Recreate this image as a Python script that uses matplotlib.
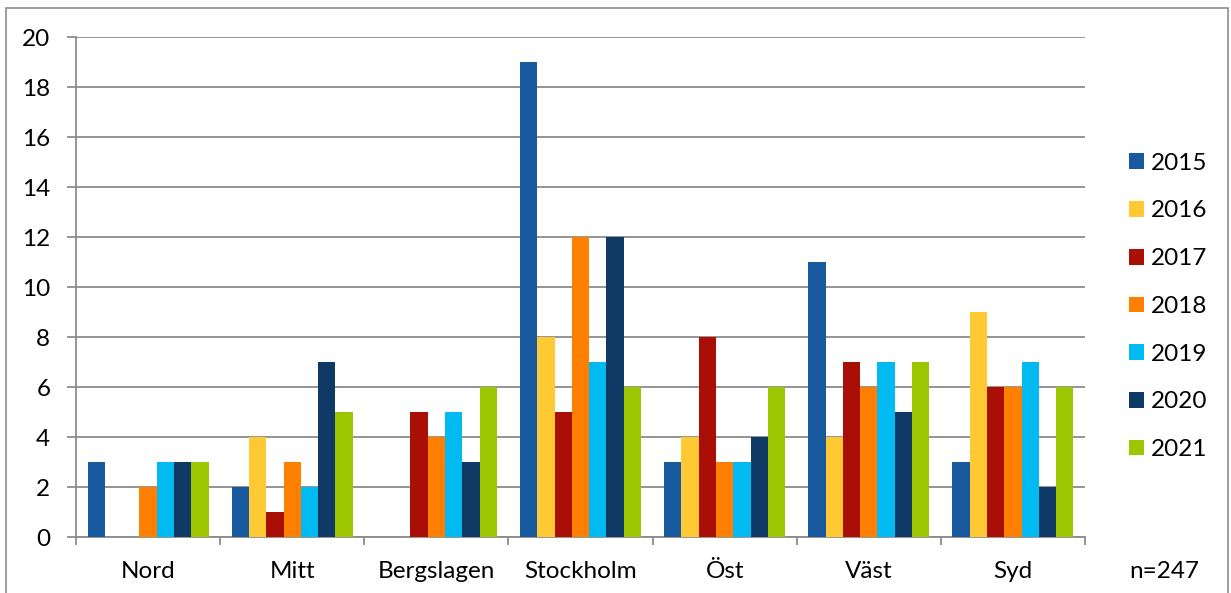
import matplotlib
matplotlib.use("Agg")
import matplotlib.pyplot as plt
import numpy as np
from matplotlib.patches import Rectangle

plt.rcParams['font.family'] = ['Lato', 'DejaVu Sans']

regions = ["Nord", "Mitt", "Bergslagen", "Stockholm", "Öst", "Väst", "Syd"]
years = ["2015", "2016", "2017", "2018", "2019", "2020", "2021"]
values = {
    "2015": [3, 2, 0, 19, 3, 11, 3],
    "2016": [0, 4, 0, 8, 4, 4, 9],
    "2017": [0, 1, 5, 5, 8, 7, 6],
    "2018": [2, 3, 4, 12, 3, 6, 6],
    "2019": [3, 2, 5, 7, 3, 7, 7],
    "2020": [3, 7, 3, 12, 4, 5, 2],
    "2021": [3, 5, 6, 6, 6, 7, 6],
}
colors = ["#185A9D", "#FFC933", "#A90F05", "#FF7F00", "#00BBF2", "#0F3A66", "#9BC600"]
note = "n=247"

W, H = 1231, 593
fig = plt.figure(figsize=(W / 100, H / 100), dpi=100)
ax = fig.add_axes([76 / W, (H - 537) / H, (1085 - 76) / W, 500 / H])

fs = 17.5
grid_c = "#8C8C8C"
n = len(years)
bw = 0.12
x = np.arange(len(regions)) + 0.5
for j, (yr, c) in enumerate(zip(years, colors)):
    offs = (j - (n - 1) / 2) * bw
    ax.bar(x + offs, values[yr], width=bw, color=c, label=yr, zorder=3)

ax.set_xlim(0, len(regions))
ax.set_ylim(0, 20)
ax.set_yticks(np.arange(0, 21, 2))
ax.yaxis.grid(True, color=grid_c, linewidth=1.3, zorder=0)
ax.set_axisbelow(True)

ax.set_xticks(np.arange(len(regions) + 1))
ax.set_xticklabels([])
ax.set_xticks(x, minor=True)
ax.set_xticklabels(regions, minor=True, fontsize=fs)
ax.tick_params(axis='x', which='minor', length=0, pad=17)
ax.tick_params(axis='x', which='major', length=6, width=1.3, color=grid_c, direction='out')
ax.tick_params(axis='y', length=6.5, width=1.3, color=grid_c, pad=12, labelsize=fs)

for s in ["top", "right"]:
    ax.spines[s].set_visible(False)
for s in ["left", "bottom"]:
    ax.spines[s].set_color(grid_c)
    ax.spines[s].set_linewidth(1.3)

leg = fig.legend(loc='upper left', bbox_to_anchor=(1119 / W, (H - 143) / H),
                 frameon=False, fontsize=fs, handlelength=0.62, handleheight=0.62,
                 handletextpad=0.3, labelspacing=1.1, borderaxespad=0)

fig.text(1164 / W, (H - 571) / H, note, fontsize=fs, ha='center', va='center')

fig.patches.append(Rectangle((6 / W, -0.02), (1228 - 6) / W, (H - 8) / H + 0.02,
                             transform=fig.transFigure, fill=False,
                             edgecolor="#8C8C8C", linewidth=1.2))

fig.savefig("out.png", dpi=100)
